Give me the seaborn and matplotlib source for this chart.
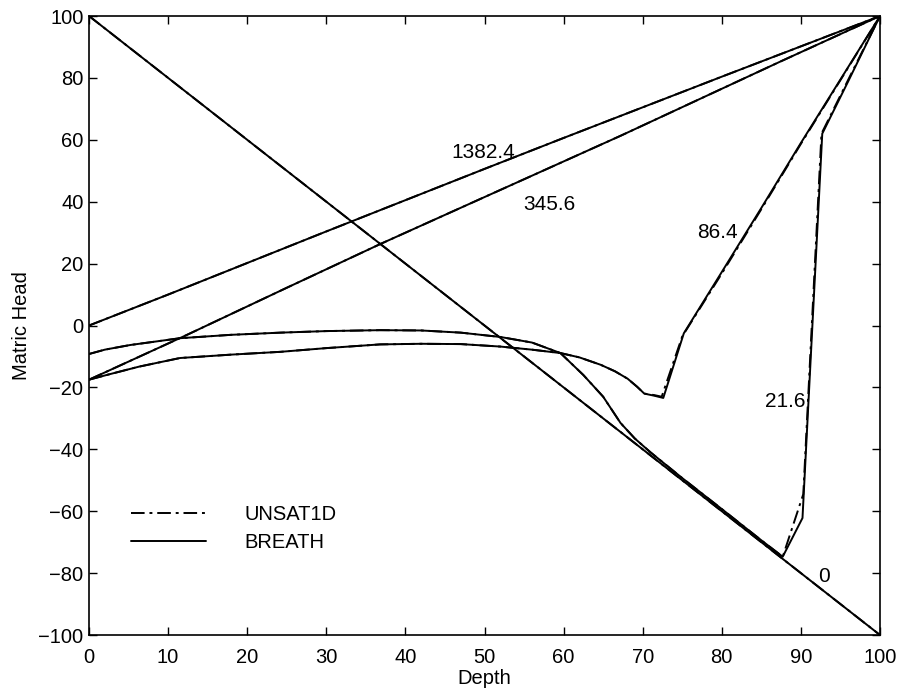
import numpy as np
import pandas as pd
import matplotlib
matplotlib.use("Agg")
import matplotlib.pyplot as plt
import seaborn as sns
from matplotlib.lines import Line2D

# ---- data ----
t0_x = [0, 100]
t0_y = [100, -100]

t216_x = [0, 2, 5.2, 11.5, 18, 24.2, 30, 36.8, 42, 47, 52, 56, 59.6, 62.5, 65, 67.2, 69, 71,
          75, 80, 85, 87.7, 90.2, 92.7, 96, 100]
t216_y = [-9.2, -7.8, -6.3, -4.1, -3.0, -2.3, -1.8, -1.5, -1.6, -2.3, -3.7, -5.5, -8.9, -16, -23,
          -31.5, -36.5, -41, -49.3, -59.3, -69.4, -74.7, -62.2, 62, 79, 100]
u216_x = [0, 2, 5.2, 11.5, 18, 24.2, 30, 36.8, 42, 47, 52, 56, 59.6, 62.5, 65, 67.2, 69, 71,
          75, 80, 85, 87.7, 90.3, 92.6, 96, 100]
u216_y = [-9.2, -7.8, -6.3, -4.1, -3.0, -2.3, -1.8, -1.5, -1.6, -2.3, -3.7, -5.5, -8.9, -16, -23,
          -31.5, -36.5, -41, -49.3, -59.3, -69.4, -74.7, -54.5, 62, 79.5, 100]

t864_x = [0, 2.5, 6.3, 11.5, 18, 24.2, 30, 36.8, 42, 47, 52, 56, 59.6, 62, 64.7, 66.5, 68.1,
          69.3, 70.2, 71.5, 72.6, 75.2, 80, 85, 90, 95, 100]
t864_y = [-17.5, -15.8, -13.3, -10.5, -9.4, -8.5, -7.3, -6.1, -5.9, -6.0, -6.8, -7.8, -8.9, -10.3,
          -12.7, -14.8, -17.2, -19.8, -22.0, -22.7, -23.4, -2.5, 17.3, 38, 59, 79.5, 100]
u864_x = [0, 2.5, 6.3, 11.5, 18, 24.2, 30, 36.8, 42, 47, 52, 56, 59.6, 62, 64.7, 66.5, 68.1,
          69.3, 70.2, 71.5, 72.4, 75.0, 80, 85, 90, 95, 100]
u864_y = [-17.5, -15.8, -13.3, -10.5, -9.4, -8.5, -7.3, -6.1, -5.9, -6.0, -6.8, -7.8, -8.9, -10.3,
          -12.7, -14.8, -17.2, -19.8, -22.0, -22.5, -23.0, -3.5, 16.8, 37.6, 58.7, 79.3, 100]

t3456_x = [0, 12.4, 25, 36.8, 50, 67.2, 87.5, 100]
t3456_y = [-17.5, -3.0, 12.2, 26.3, 41.5, 61.3, 85.4, 100]

t13824_x = [0, 10, 20, 30, 40, 50, 60, 70, 80, 90, 100]
t13824_y = [0, 10.0, 20.2, 30.4, 40.5, 50.6, 60.6, 70.5, 80.4, 90.2, 100]

curve_labels = ["0", "21.6", "86.4", "345.6", "1382.4"]
label_x = [92.9, 88.0, 79.5, 58.2, 49.9]
label_y = [-81.0, -24.7, 30.0, 39.0, 56.0]

legend_labels = ["UNSAT1D", "BREATH"]
x_ticks = list(range(0, 101, 10))
y_ticks = list(range(-100, 101, 20))

# ---- figure ----
sns.set_theme(style="white")
plt.rcParams["font.family"] = ["Liberation Sans", "DejaVu Sans"]
plt.rcParams["text.color"] = "black"
plt.rcParams["axes.labelcolor"] = "black"

FS = 14.5
fig = plt.figure(figsize=(9.01, 6.96), dpi=100)
ax = fig.add_axes([0.0988, 0.0876, 0.8779, 0.8894])

LW = 1.4
DASHDOT = (0, (7, 2.5, 1.5, 2.5))

breath = [(t0_x, t0_y), (t216_x, t216_y), (t864_x, t864_y), (t3456_x, t3456_y), (t13824_x, t13824_y)]
unsat = [(t0_x, t0_y), (u216_x, u216_y), (u864_x, u864_y), (t3456_x, t3456_y), (t13824_x, t13824_y)]

for xs, ys in unsat:
    sns.lineplot(x=xs, y=ys, ax=ax, color="black", lw=LW, sort=False, estimator=None,
                 linestyle=DASHDOT)
for xs, ys in breath:
    sns.lineplot(x=xs, y=ys, ax=ax, color="black", lw=LW, sort=False, estimator=None)

for lab, lx, ly in zip(curve_labels, label_x, label_y):
    ax.text(lx, ly, lab, fontsize=15, ha="center", va="center", color="black")

ax.set_xlim(0, 100)
ax.set_ylim(-100, 100)
ax.set_xticks(x_ticks)
ax.set_yticks(y_ticks)
ax.set_xticklabels([str(v) for v in x_ticks])
ax.set_yticklabels([str(v).replace("-", "\u2212") for v in y_ticks])
ax.tick_params(direction="in", length=6, width=1, labelsize=FS, colors="black",
               top=True, right=True, bottom=True, left=True, pad=4)
ax.tick_params(axis="x", pad=9)
for s in ax.spines.values():
    s.set_visible(True)
    s.set_color("black")
    s.set_linewidth(1.2)
ax.set_xlabel("Depth", fontsize=FS, labelpad=2, color="black")
ax.set_ylabel("Matric Head", fontsize=FS, labelpad=5, color="black")
ax.grid(False)

handles = [Line2D([], [], color="black", lw=LW, linestyle=DASHDOT),
           Line2D([], [], color="black", lw=LW)]
ax.legend(handles, legend_labels, loc="upper left", bbox_to_anchor=(0.03, 0.24),
          frameon=False, fontsize=FS, handlelength=3.75, handletextpad=1.9,
          labelspacing=0.45, labelcolor="black")

fig.savefig("out.png", dpi=100)
